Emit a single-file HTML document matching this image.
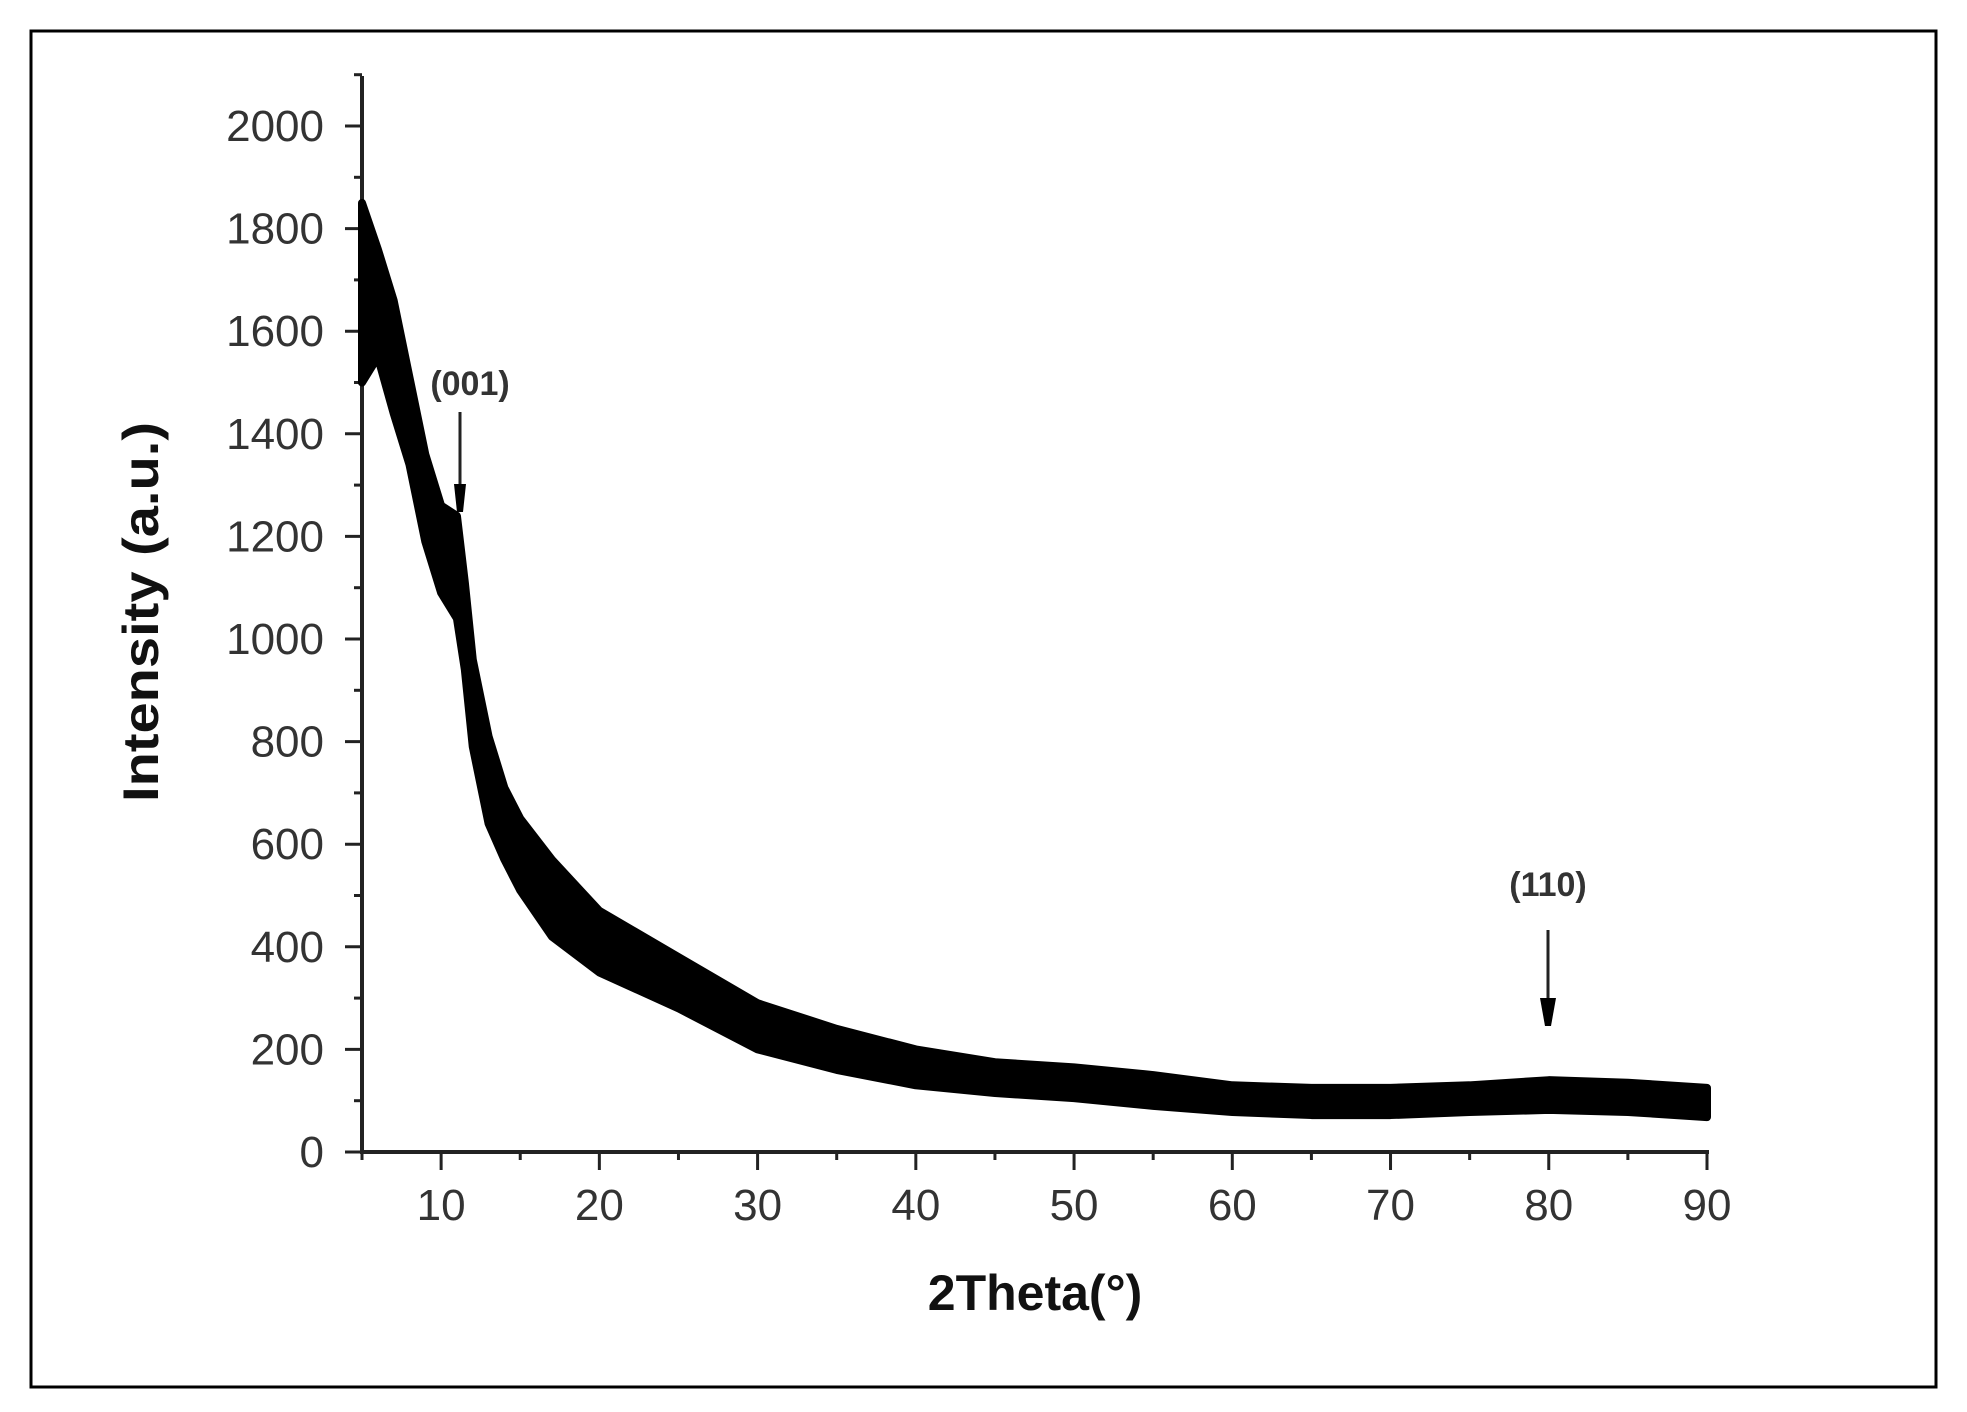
<!DOCTYPE html>
<html><head><meta charset="utf-8"><style>
html,body{margin:0;padding:0;background:#fff;}
svg{display:block;}
text{font-family:"Liberation Sans",Arial,sans-serif;fill:#333;}
</style></head><body>
<svg id="chart" width="1967" height="1412" viewBox="0 0 1967 1412" xmlns="http://www.w3.org/2000/svg">
<rect x="31" y="31" width="1905" height="1356" fill="#fff" stroke="#000" stroke-width="3"/>
<g id="axes"></g>
<g id="band"></g>
<g>
<text x="470" y="395" font-size="34" font-weight="bold" text-anchor="middle">(001)</text>
<line x1="460" y1="412" x2="460" y2="500" stroke="#222" stroke-width="3"/>
<polygon points="454,484 466,484 463,512 457,512" fill="#000"/>
</g>
<g>
<text x="1548" y="896" font-size="34" font-weight="bold" text-anchor="middle">(110)</text>
<line x1="1548" y1="930" x2="1548" y2="1012" stroke="#222" stroke-width="3"/>
<polygon points="1540,998 1556,998 1551,1026 1545,1026" fill="#000"/>
</g>
<text x="1035" y="1310" font-size="50" font-weight="bold" text-anchor="middle" style="fill:#111">2Theta(°)</text>
<text x="0" y="0" font-size="50" font-weight="bold" text-anchor="middle" textLength="380" lengthAdjust="spacingAndGlyphs" transform="translate(158,612) rotate(-90)" style="fill:#111">Intensity (a.u.)</text>
</svg>
<script>
const xVals=[5,6,7,8,9,10,11,11.5,12,13,14,15,17,20,25,30,35,40,45,50,55,60,65,70,75,80,85,90];
const upper=[1850,1760,1660,1510,1360,1260,1240,1110,960,810,710,650,570,470,380,290,240,200,175,165,150,130,125,125,130,140,135,125];
const lower=[1500,1550,1440,1340,1190,1090,1040,940,790,640,570,510,420,350,280,200,160,130,115,105,90,78,72,72,78,82,78,68];
const xTicks=[10,20,30,40,50,60,70,80,90];
const yTicks=[0,200,400,600,800,1000,1200,1400,1600,1800,2000];
const NS='http://www.w3.org/2000/svg';
const X=v=>362+(v-5)*(1707-362)/85;
const Y=v=>1152-v*(1152-126)/2000;
function mk(t,a,p){const e=document.createElementNS(NS,t);for(const k in a)e.setAttribute(k,a[k]);p.appendChild(e);return e;}
const ax=document.getElementById('axes');
let e=mk('line',{x1:362,y1:76,x2:362,y2:1154,stroke:'#222','stroke-width':4},ax);


e=mk('line',{x1:360,y1:1152,x2:1709,y2:1152,stroke:'#222','stroke-width':4},ax);


for(let v=5;v<=90;v+=5){const major=v%10===0;
 e=mk('line',{x1:X(v),y1:1152,x2:X(v),y2:major?1170:1160,stroke:'#222','stroke-width':3},ax);
 
 }
xTicks.forEach(v=>{e=mk('text',{x:X(v),y:1220,'font-size':44,'text-anchor':'middle'},ax);e.textContent=String(v);
 
 });
for(let v=0;v<=2100;v+=100){const major=v%200===0;
 e=mk('line',{x1:major?345:354,y1:Y(v),x2:362,y2:Y(v),stroke:'#222','stroke-width':3},ax);
 
 }
yTicks.forEach(v=>{e=mk('text',{x:324,y:Y(v)+15,'font-size':44,'text-anchor':'end'},ax);e.textContent=String(v);
 
 });
const band=document.getElementById('band');
let pts=xVals.map((x,i)=>X(x)+','+Y(upper[i]));
for(let i=xVals.length-1;i>=0;i--)pts.push(X(xVals[i])+','+Y(lower[i]));
e=mk('polygon',{points:pts.join(' '),fill:'#000',stroke:'#000','stroke-width':8,'stroke-linejoin':'round'},band);


</script>
</body></html>
